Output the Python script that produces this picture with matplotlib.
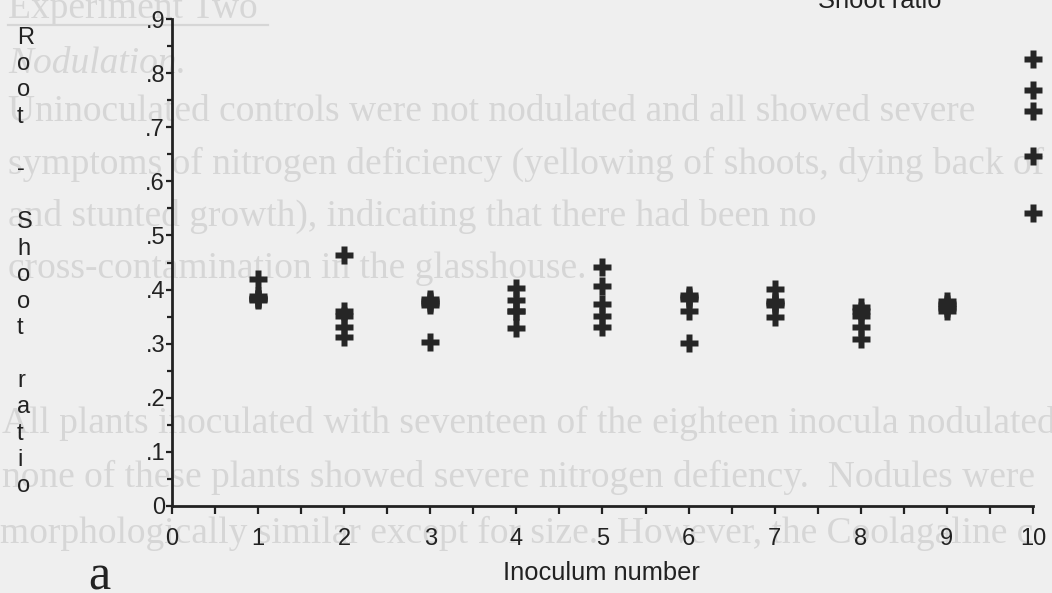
import numpy as np
import matplotlib
matplotlib.use("Agg")
import matplotlib.pyplot as plt
from matplotlib.ticker import MultipleLocator, FixedLocator, FixedFormatter
from matplotlib.lines import Line2D

# Root:shoot ratio of individual plants for each inoculum
inoculum = [1, 2, 3, 4, 5, 6, 7, 8, 9, 10]
ratio_by_inoculum = [
    [0.420, 0.388, 0.385, 0.383, 0.380],
    [0.463, 0.360, 0.352, 0.330, 0.312],
    [0.383, 0.379, 0.375, 0.371, 0.304],
    [0.403, 0.381, 0.361, 0.361, 0.329],
    [0.441, 0.407, 0.373, 0.352, 0.330],
    [0.390, 0.386, 0.382, 0.360, 0.301],
    [0.401, 0.378, 0.375, 0.372, 0.350],
    [0.368, 0.360, 0.352, 0.331, 0.309],
    [0.378, 0.374, 0.370, 0.366, 0.361],
    [0.826, 0.768, 0.730, 0.647, 0.542],
]
x_ticks = [0, 1, 2, 3, 4, 5, 6, 7, 8, 9, 10]
x_tick_labels = ["0", "1", "2", "3", "4", "5", "6", "7", "8", "9", "10"]
y_ticks = [0.0, 0.1, 0.2, 0.3, 0.4, 0.5, 0.6, 0.7, 0.8, 0.9]
y_tick_labels = ["0", ".1", ".2", ".3", ".4", ".5", ".6", ".7", ".8", ".9"]
y_title = "Root - Shoot ratio"
x_title = "Inoculum number"

# Faint text showing through from the page behind
page_lines = [
    "Experiment Two",
    "Nodulation.",
    "Uninoculated controls were not nodulated and all showed severe",
    "symptoms of nitrogen deficiency (yellowing of shoots, dying back of",
    "and stunted growth), indicating that there had been no",
    "cross-contamination in the glasshouse.",
    "All plants inoculated with seventeen of the eighteen inocula nodulated",
    "none of these plants showed severe nitrogen defiency.  Nodules were",
    "morphologically similar except for size.  However, the Coolagaline c",
]

W, H = 1052, 593
BG = "#efefef"
INK = "#222222"
GHOST = "#d6d6d6"
SANS = "Liberation Sans"

fig = plt.figure(figsize=(W / 100, H / 100), dpi=100, facecolor=BG)


def fx(px):
    return px / W


def fy(py):
    return 1 - py / H


# page text behind the chart
ghost_baselines = [18, 73, 121, 174, 226, 278, 433, 487, 543]
ghost_x = [8, 8, 8, 8, 8, 8, 2, 2, 0]
for line, yb, xl in zip(page_lines, ghost_baselines, ghost_x):
    style = "italic" if line == "Nodulation." else "normal"
    fig.text(fx(xl), fy(yb), line, family="Liberation Serif", fontsize=27,
             style=style, color=GHOST, va="baseline", ha="left", zorder=-5)
fig.add_artist(Line2D([fx(8), fx(268)], [fy(25), fy(25)], color=GHOST, lw=1.6, zorder=-5))

# chart axes
ax = fig.add_axes([fx(172), fy(506), fx(1033) - fx(172), fy(19) - fy(506)])
ax.patch.set_visible(False)
ax.set_xlim(0, 10)
ax.set_ylim(0, 0.9)

xs = np.repeat(inoculum, [len(r) for r in ratio_by_inoculum])
ys = np.concatenate(ratio_by_inoculum)
ax.plot(xs, ys, ls="none", marker="P", ms=13, color="#262626", mec="none", clip_on=False)

for side in ("top", "right"):
    ax.spines[side].set_visible(False)
for side in ("left", "bottom"):
    ax.spines[side].set_linewidth(2.0)
    ax.spines[side].set_color(INK)

ax.xaxis.set_major_locator(FixedLocator(x_ticks))
ax.xaxis.set_major_formatter(FixedFormatter(x_tick_labels))
ax.xaxis.set_minor_locator(MultipleLocator(0.5))
ax.yaxis.set_major_locator(FixedLocator(y_ticks))
ax.yaxis.set_major_formatter(FixedFormatter(y_tick_labels))
ax.yaxis.set_minor_locator(MultipleLocator(0.05))

ax.tick_params(which="both", direction="out", color=INK, width=1.6)
ax.tick_params(axis="x", which="both", length=5.5)
ax.tick_params(axis="y", which="major", length=4.5)
ax.tick_params(axis="y", which="minor", length=3.5)
ax.tick_params(axis="x", which="major", pad=10, labelsize=17, labelcolor=INK)
ax.tick_params(axis="y", which="major", pad=0.5, labelsize=17, labelcolor=INK)
for lab in ax.get_xticklabels() + ax.get_yticklabels():
    lab.set_family(SANS)

# stacked vertical axis title, one character per row
step = 26.4
for i, ch in enumerate(y_title):
    if ch.strip():
        fig.text(fx(17), fy(43.5 + i * step), ch, family=SANS, fontsize=17,
                 color=INK, ha="left", va="baseline")

ax.set_xlabel(x_title, family=SANS, fontsize=18.4, color=INK, va="center")
ax.xaxis.set_label_coords((601 - 172) / 861, -(573 - 506) / 487)

fig.text(fx(818), fy(8), "Shoot ratio", family=SANS, fontsize=18.4,
         color=INK, ha="left", va="baseline")
fig.text(fx(99), fy(590), "a", family="Liberation Serif", fontsize=36,
         color=INK, ha="center", va="baseline")

fig.savefig("out.png", dpi=100, facecolor=BG)
